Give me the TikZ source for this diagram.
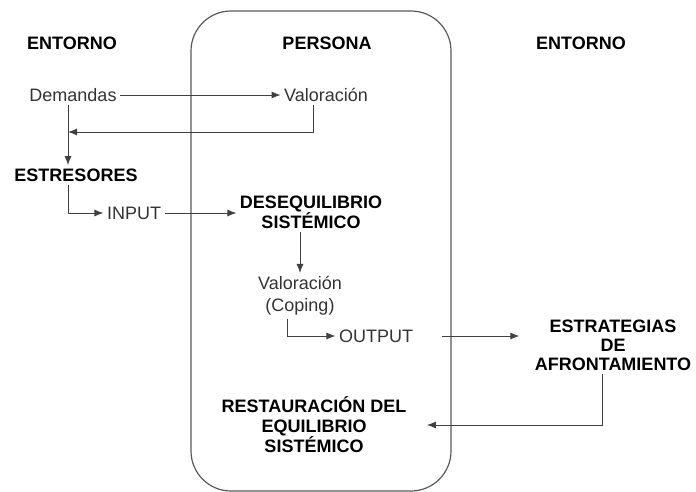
\documentclass[tikz,border=0pt]{standalone}
\usepackage{fontspec}
\setmainfont{Liberation Sans}
\usetikzlibrary{arrows.meta}

\begin{document}
\begin{tikzpicture}[x=1pt,y=-1pt,
  titulo/.style={font=\fontsize{18}{20}\selectfont\bfseries,align=center,text=black},
  texto/.style={font=\fontsize{18}{22}\selectfont,align=center,text=black!80},
  flecha/.style={-{Latex[length=9pt,width=7pt]},line width=0.9pt,draw=black!75}]
\useasboundingbox (0,0) rectangle (696,492);
\draw[rounded corners=40pt,line width=1.2pt,draw=black!65] (191,11) rectangle (451,491);
% titulos
\node[titulo] (entornoL) at (72,43) {ENTORNO};
\node[titulo] (persona) at (327,43) {PERSONA};
\node[titulo] (entornoR) at (581,43) {ENTORNO};
% nodos
\node[texto] (demandas) at (73,95) {Demandas};
\node[texto] (valor) at (326,95) {Valoración};
\node[titulo] (estres) at (76,175) {ESTRESORES};
\node[texto] (input) at (134,213) {INPUT};
\node[titulo] (deseq) at (311,212) {DESEQUILIBRIO\\SISTÉMICO};
\node[texto] (coping) at (300,296) {Valoración\\(Coping)};
\node[texto] (output) at (376,336) {OUTPUT};
\node[titulo,font=\fontsize{18}{19}\selectfont\bfseries] (estrat) at (613,345) {ESTRATEGIAS\\DE\\AFRONTAMIENTO};
\node[titulo] (restaur) at (314,425) {RESTAURACIÓN DEL\\EQUILIBRIO\\SISTÉMICO};
\coordinate (junta) at (68,132);
% flechas
\draw[flecha] (demandas) -- (valor);
\draw[flecha] ([xshift=-13pt]valor.south) |- (junta);
\draw[flecha] ([xshift=-5pt]demandas.south) -- ([xshift=-5pt]demandas.south |- estres.north);
\draw[flecha] ([xshift=-8pt]estres.south) |- (input.west);
\draw[flecha] (input) -- (deseq.west |- input);
\draw[flecha] (coping.north |- deseq.south) -- (coping.north);
\draw[flecha] ([xshift=-13pt]coping.south) |- (output.west);
\draw[flecha] ([xshift=25pt]output.east) -- ([xshift=-12pt]estrat.west |- output);
\draw[flecha] ([xshift=-11pt]estrat.south) |- ([xshift=17pt]restaur.east);
\end{tikzpicture}
\end{document}
